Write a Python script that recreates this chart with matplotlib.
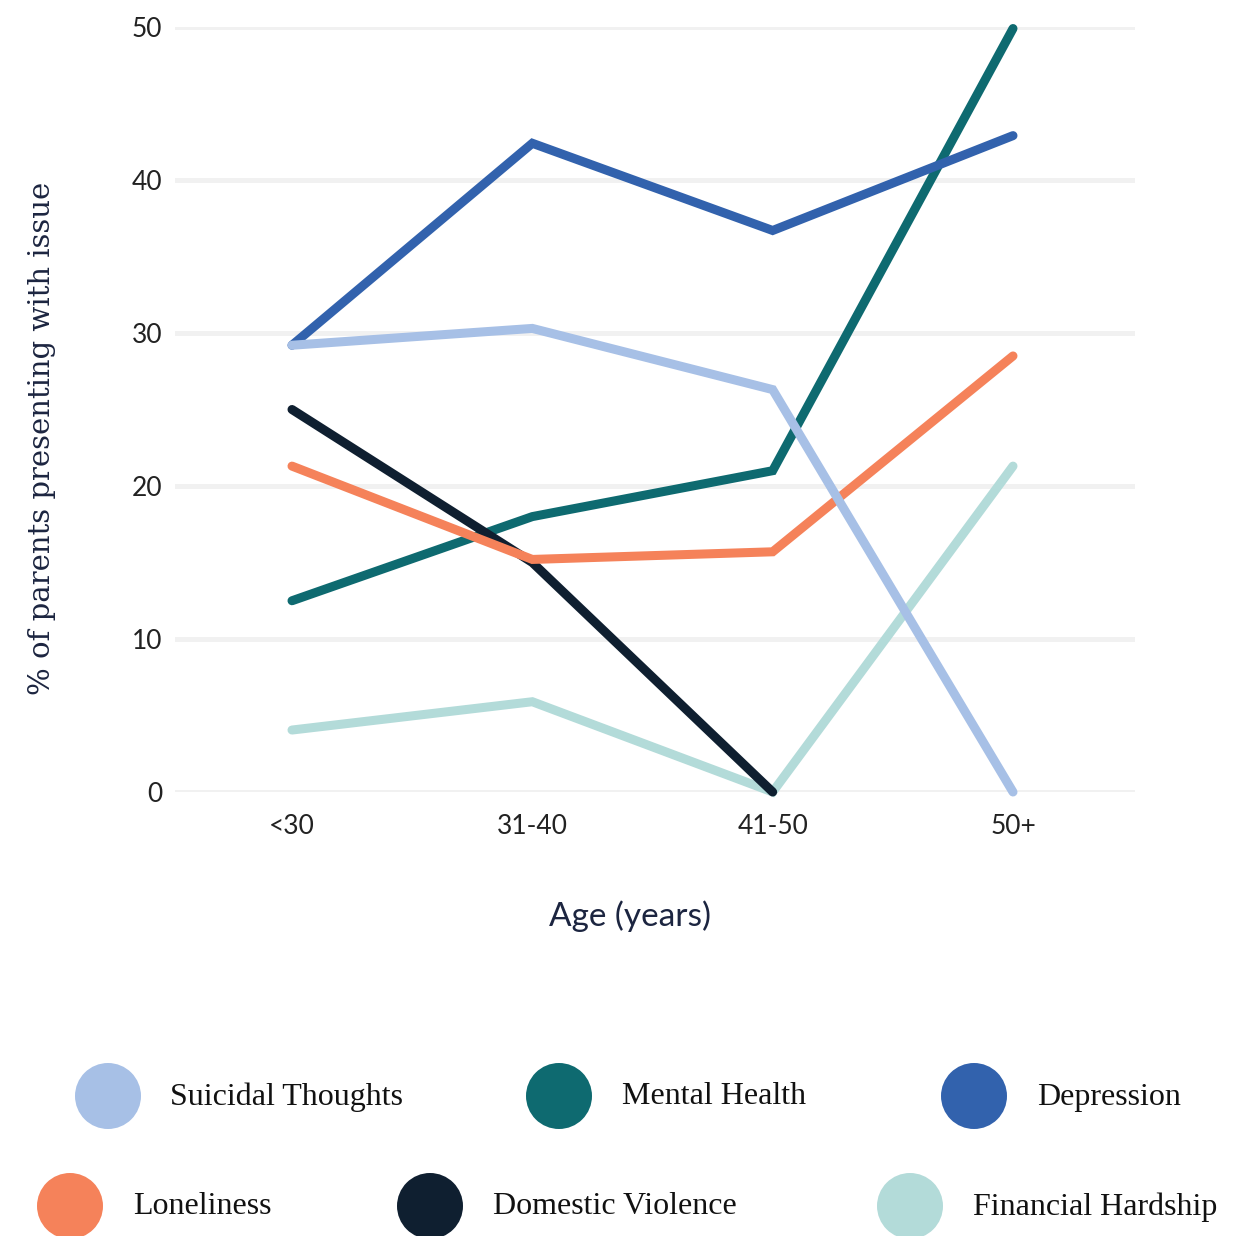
import matplotlib
matplotlib.use("Agg")
import matplotlib.pyplot as plt
from matplotlib.patches import Ellipse

categories = ["<30", "31-40", "41-50", "50+"]
series_names = ["Suicidal Thoughts", "Mental Health", "Depression",
                "Loneliness", "Domestic Violence", "Financial Hardship"]
suicidal = [29.2, 30.3, 26.3, 0.0]
mental = [12.5, 18.0, 21.0, 49.9]
depression = [29.2, 42.4, 36.7, 42.9]
loneliness = [21.3, 15.2, 15.7, 28.5]
domestic = [25.0, 15.0, 0.0, None]
financial = [4.05, 5.9, 0.0, 21.3]
yticks = [0, 10, 20, 30, 40, 50]

colors = {
    "Suicidal Thoughts": "#a7c0e6",
    "Mental Health": "#0e6a70",
    "Depression": "#3262ad",
    "Loneliness": "#f5825a",
    "Domestic Violence": "#0f1f30",
    "Financial Hardship": "#b3dbd9",
}
values = {
    "Suicidal Thoughts": suicidal,
    "Mental Health": mental,
    "Depression": depression,
    "Loneliness": loneliness,
    "Domestic Violence": domestic,
    "Financial Hardship": financial,
}
zorders = {
    "Financial Hardship": 3, "Mental Health": 4, "Domestic Violence": 5,
    "Loneliness": 6, "Depression": 7, "Suicidal Thoughts": 8,
}

W, H = 1255, 1236
fig = plt.figure(figsize=(W / 100, H / 100), dpi=100)
fig.patch.set_facecolor("white")

ax_left, ax_right = 175, 1135
ax_top, ax_bottom = 27, 792
ax = fig.add_axes([ax_left / W, 1 - ax_bottom / H, (ax_right - ax_left) / W, (ax_bottom - ax_top) / H])
ax.set_facecolor("none")

x = list(range(len(categories)))
for name in series_names:
    vals = values[name]
    xs = [xi for xi, v in zip(x, vals) if v is not None]
    ys = [v for v in vals if v is not None]
    ax.plot(xs, ys, color=colors[name], lw=6.5, solid_capstyle="round",
            solid_joinstyle="miter", zorder=zorders[name], clip_on=False)

px_per_unit = (1013 - 292) / 3
ax.set_xlim(-(292 - ax_left) / px_per_unit, 3 + (ax_right - 1013) / px_per_unit)
ax.set_ylim(0, 50)

ax.set_yticks(yticks)
ax.set_yticklabels([str(t) for t in yticks], fontfamily="Lato", fontsize=19, color="#222222")
ax.set_xticks(x)
ax.set_xticklabels(categories, fontfamily="Lato", fontsize=19, color="#222222")
ax.tick_params(axis="both", length=0)
ax.tick_params(axis="y", pad=9)
ax.tick_params(axis="x", pad=16)
for t in yticks:
    ax.axhline(t, color="#f1f1f1", lw=3.6, zorder=1)
for s in ax.spines.values():
    s.set_visible(False)

fig.text(630 / W, 1 - 916 / H, "Age (years)", fontfamily="Lato", fontsize=24,
         color="#1c2540", ha="center", va="center")
fig.text(42 / W, 1 - 438 / H, "% of parents presenting with issue", fontfamily="DejaVu Serif",
         fontsize=21, color="#1c2540", ha="center", va="center", rotation=90)

# legend
leg_circle_x = [108, 559, 974, 70, 430, 910]
leg_circle_y = [1096, 1096, 1096, 1206, 1206, 1206]
leg_text_x = [170, 622, 1037, 133, 493, 973]
r = 33
for i, name in enumerate(series_names):
    cx, cy = leg_circle_x[i], leg_circle_y[i]
    e = Ellipse((cx / W, 1 - cy / H), 2 * r / W, 2 * r / H, transform=fig.transFigure,
                color=colors[name], lw=0)
    fig.patches.append(e)
    fig.text(leg_text_x[i] / W, 1 - (cy + 1) / H, name, fontfamily="Liberation Serif",
             fontsize=23, color="#111111", ha="left", va="center")

fig.savefig("out.png", dpi=100, facecolor="white")
